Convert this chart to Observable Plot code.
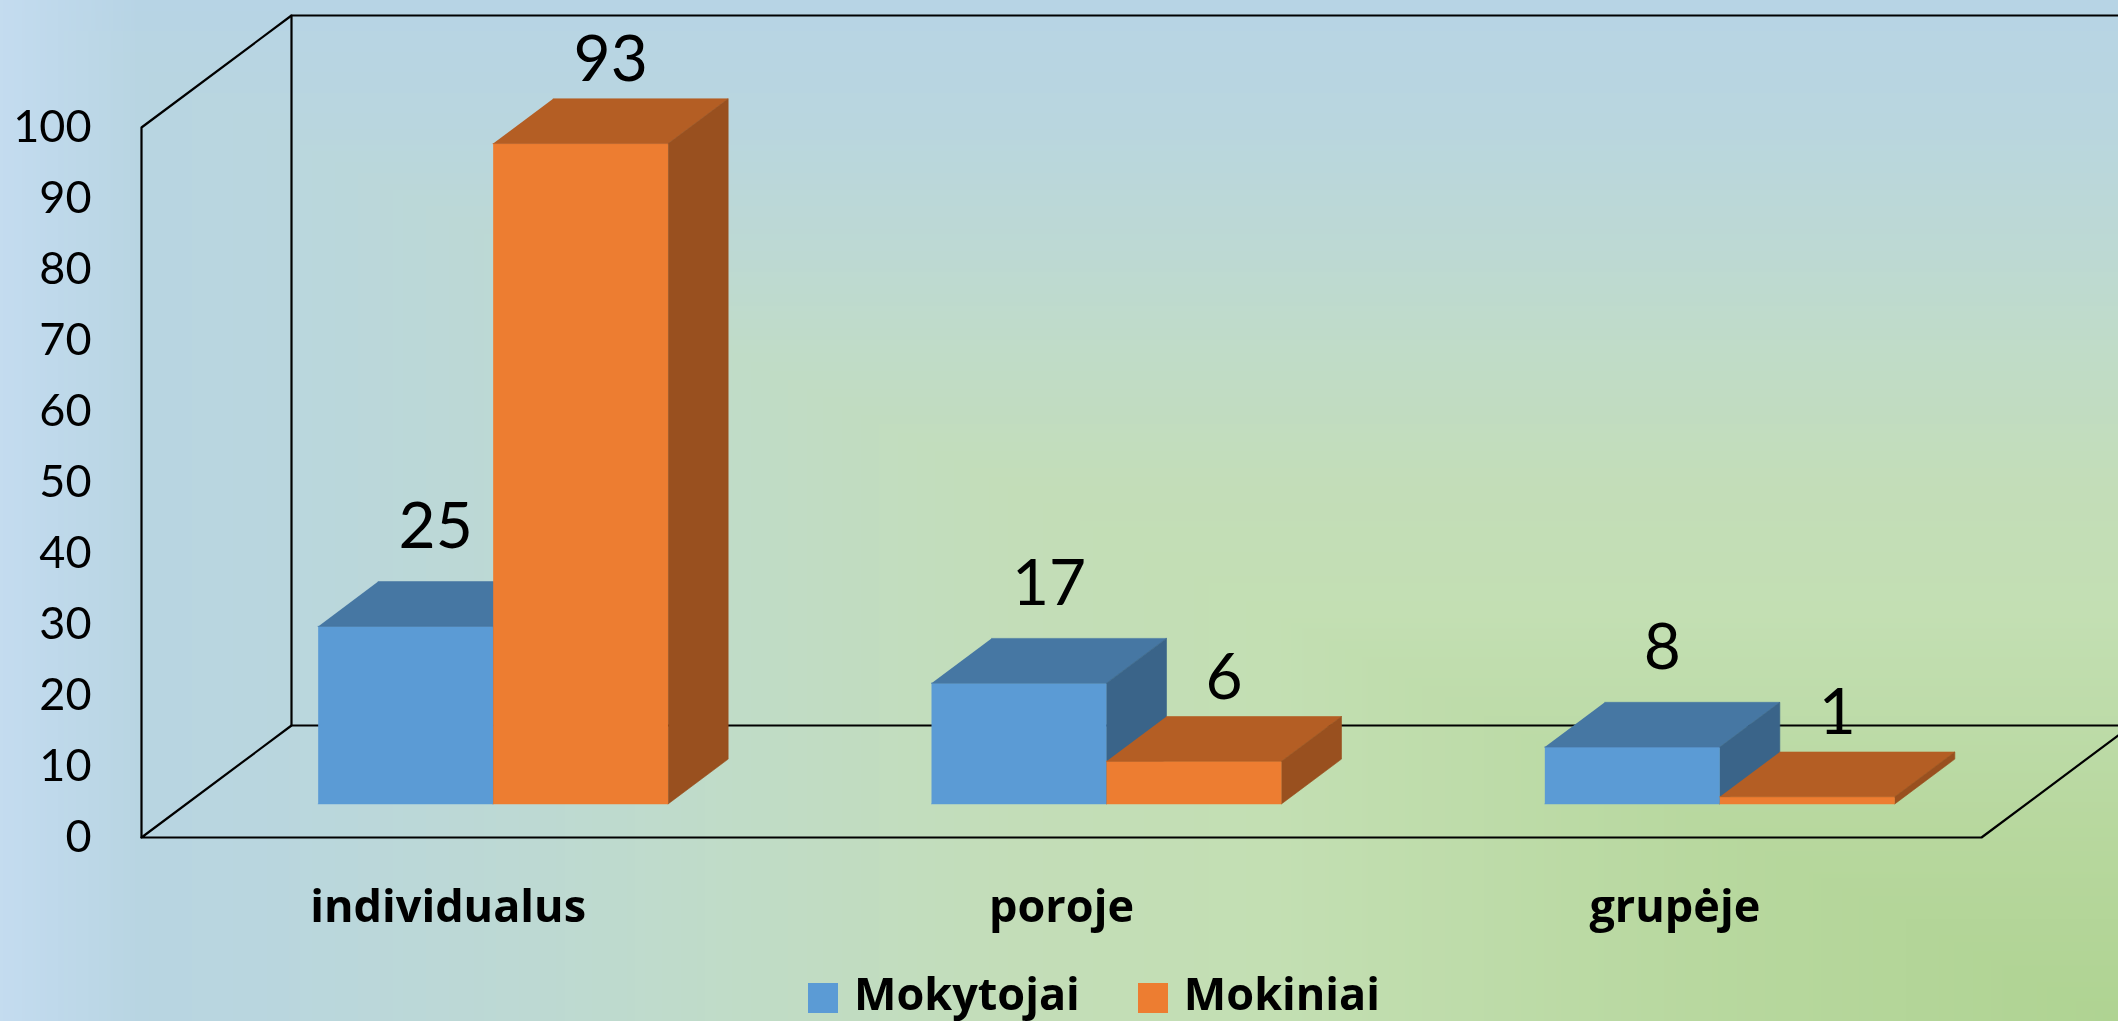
<!DOCTYPE html>
<html>
<head>
<meta charset="utf-8">
<script src="https://cdn.jsdelivr.net/npm/d3@7"></script>
<script src="https://cdn.jsdelivr.net/npm/@observablehq/plot@0.6"></script>
<style>
html, body { margin: 0; padding: 0; width: 2118px; height: 1021px; overflow: hidden; }
body { position: relative; background: #bedbd0; }
#bg { position: absolute; left: 0; top: 0; z-index: 0; }
#chart, #legend { position: relative; z-index: 1; }
#chart svg { display: block; }
#legend { height: 61px; }
#legend .row { position: absolute; left: 808px; top: 23px; height: 30px; display: flex; align-items: center; }
#legend .sw { width: 30px; height: 30px; display: inline-block; }
#legend .lbl { font-family: "Open Sans", sans-serif; font-weight: 700; font-size: 45px; line-height: 30px; color: #000; margin-left: 16px; position: relative; top: -5px; }
</style>
</head>
<body>
<canvas id="bg" width="2118" height="1021"></canvas>
<div id="chart"></div>
<div id="legend"></div>
<script>
// ---- data ----
const categories = ["individualus", "poroje", "grupėje"];
const seriesNames = ["Mokytojai", "Mokiniai"];
const mokytojai = [25, 17, 8];
const mokiniai = [93, 6, 1];
const yTicks = [0, 10, 20, 30, 40, 50, 60, 70, 80, 90, 100];

// ---- styling ----
const seriesColors = [
  { front: "#5b9bd5", top: "#4677a3", side: "#3a6489" },
  { front: "#ed7d31", top: "#b45e24", side: "#99501f" }
];
const labelLift = [-54, -38];

// ---- background (rectangular gradient towards the bottom-right corner) ----
(function paintBackground() {
  const cv = document.getElementById("bg");
  const ctx = cv.getContext("2d");
  const BW = cv.width, BH = cv.height;
  const ramp = d3.scaleLinear()
    .domain([0, 0.12, 0.25, 0.35, 0.48, 0.6, 0.8, 1])
    .range(["#b7d4e5", "#b9d6df", "#bdd9d3", "#c0dcc7", "#c3ddb8", "#c3dfb3", "#b8d89f", "#afd392"])
    .interpolate(d3.interpolateRgb);
  const N = 1024;
  const lut = d3.range(N).map(k => d3.rgb(ramp(k / (N - 1))));
  const img = ctx.createImageData(BW, BH);
  const px = img.data;
  const edge = d3.rgb("#c6ddf1");
  for (let y = 0; y < BH; y++) {
    const ty = y / BH;
    for (let x = 0; x < BW; x++) {
      const t = Math.min(x / BW, ty);
      let c = lut[Math.round(t * (N - 1))];
      let r = c.r, g = c.g, b = c.b;
      if (x < 140) { const a = 0.85 * (1 - x / 140); r = r + (edge.r - r) * a; g = g + (edge.g - g) * a; b = b + (edge.b - b) * a; }
      const o = (y * BW + x) * 4;
      px[o] = r; px[o + 1] = g; px[o + 2] = b; px[o + 3] = 255;
    }
  }
  ctx.putImageData(img, 0, 0);
})();

// ---- layout ----
const W = 2118, H = 960;
const mL = 141, mR = 137, mT = 127, mB = 123;
const kx = (W - mL - mR) / categories.length;  // px per category unit
const ky = (H - mT - mB) / 100;                // px per value unit
const DX = 150 / kx, DY = 112 / ky;            // full floor depth in data units
const FRONT = 0.3, BACK = 0.7;
const barW = 175 / kx;
const nCat = categories.length;

const seriesValues = [mokytojai, mokiniai];

// polygons for the 3D bars
const polys = [];
const labels = [[], []];
categories.forEach((c, i) => {
  seriesValues.forEach((vals, j) => {
    const v = vals[i];
    const x0 = i + 0.5 - barW + j * barW, x1 = x0 + barW;
    const fx = FRONT * DX, fy = FRONT * DY, bx = BACK * DX, by = BACK * DY;
    const col = seriesColors[j];
    const add = (face, fill, pts) => pts.forEach(([x, y]) => polys.push({ id: `${i}-${j}-${face}`, x, y, fill }));
    add("front", col.front, [[x0 + fx, fy], [x1 + fx, fy], [x1 + fx, v + fy], [x0 + fx, v + fy]]);
    add("top", col.top, [[x0 + fx, v + fy], [x1 + fx, v + fy], [x1 + bx, v + by], [x0 + bx, v + by]]);
    add("side", col.side, [[x1 + fx, fy], [x1 + bx, by], [x1 + bx, v + by], [x1 + fx, v + fy]]);
    labels[j].push({ x: (x0 + x1) / 2 + 0.5 * DX, y: v + by, text: String(v) });
  });
});

// frame (walls / floor) edges derived from the scale domains
const frame = [
  { id: "floor", x: nCat + DX + 1, y: DY }, { id: "floor", x: DX, y: DY }, { id: "floor", x: 0, y: 0 },
  { id: "floor", x: nCat, y: 0 }, { id: "floor", x: nCat + DX, y: DY },
  { id: "wall", x: 0, y: 0 }, { id: "wall", x: 0, y: 100 }, { id: "wall", x: DX, y: 100 + DY }, { id: "wall", x: nCat + DX + 1, y: 100 + DY },
  { id: "back", x: DX, y: DY }, { id: "back", x: DX, y: 100 + DY }
];

const chart = Plot.plot({
  width: W, height: H,
  marginLeft: mL, marginRight: mR, marginTop: mT, marginBottom: mB,
  style: "background: transparent; overflow: hidden;",
  x: { domain: [0, nCat] },
  y: { domain: [0, 100] },
  color: { type: "identity" },
  marks: [
    Plot.line(frame, { x: "x", y: "y", z: "id", stroke: "#000", strokeWidth: 2.2 }),
    Plot.line(polys, { x: "x", y: "y", z: "id", fill: "fill", stroke: "fill", strokeWidth: 0.6 }),
    Plot.text(labels[0], { x: "x", y: "y", text: "text", dy: labelLift[0], fontSize: 64, fontFamily: "Lato", fill: "#000" }),
    Plot.text(labels[1], { x: "x", y: "y", text: "text", dy: labelLift[1], fontSize: 64, fontFamily: "Lato", fill: "#000" }),
    Plot.axisY({ ticks: yTicks, tickSize: 0, tickPadding: 50, fontSize: 45, fontFamily: "Lato", label: null, fill: "#000" }),
    Plot.axisX({ ticks: d3.range(nCat).map(i => i + 0.5), tickFormat: t => categories[Math.floor(t)], tickSize: 0, tickPadding: 53,
                 fontSize: 45, fontWeight: "bold", fontFamily: "Open Sans", label: null, fill: "#000" })
  ]
});
document.getElementById("chart").append(chart);

// legend
const legend = document.getElementById("legend");
const row = document.createElement("div");
row.className = "row";
seriesNames.forEach((name, j) => {
  const sw = document.createElement("span");
  sw.className = "sw";
  sw.style.background = seriesColors[j].front;
  if (j > 0) sw.style.marginLeft = "58px";
  const lbl = document.createElement("span");
  lbl.className = "lbl";
  lbl.textContent = name;
  row.append(sw, lbl);
});
legend.append(row);
</script>
</body>
</html>
